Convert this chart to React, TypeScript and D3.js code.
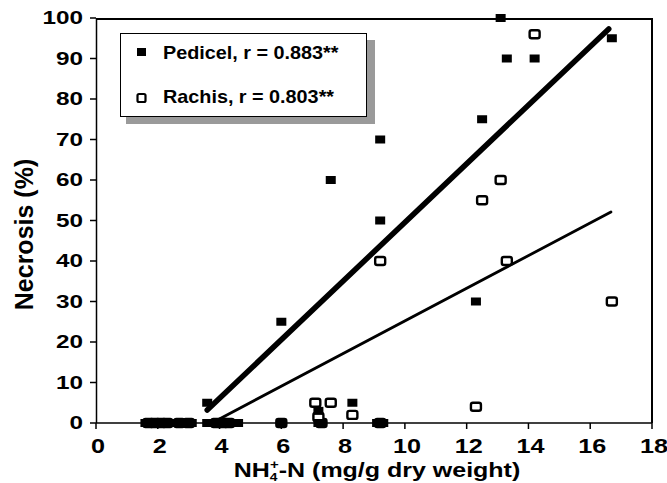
import * as d3 from "d3";
import { useRef, useEffect } from "react";

// NH4+-N (mg/g dry weight) vs necrosis (%)
const pedicelX = [1.6, 1.8, 2.0, 2.2, 2.4, 2.7, 2.9, 3.1, 3.6, 3.8, 4.0, 4.2, 4.4, 4.6, 6.0, 7.2, 7.3, 9.1, 9.3,
  3.6, 6.0, 7.6, 9.2, 9.2, 12.3, 12.5, 13.1, 13.3, 14.2, 16.7, 8.3, 7.2];
const pedicelY = [0, 0, 0, 0, 0, 0, 0, 0, 0, 0, 0, 0, 0, 0, 0, 0, 0, 0, 0,
  5, 25, 60, 50, 70, 30, 75, 100, 90, 90, 95, 5, 3];

const rachisX = [1.7, 1.9, 2.1, 2.3, 2.7, 3.0, 3.9, 4.1, 4.3, 6.0, 7.3, 9.2,
  7.1, 7.6, 7.2, 8.3, 9.2, 12.3, 12.5, 13.1, 13.3, 14.2, 16.7];
const rachisY = [0, 0, 0, 0, 0, 0, 0, 0, 0, 0, 0, 0,
  5, 5, 1.5, 2, 40, 4, 55, 60, 40, 96, 30];

// fitted lines, end points
const pedicelFitX = [3.6, 16.6];
const pedicelFitY = [3.2, 97.3];
const rachisFitX = [3.75, 16.67];
const rachisFitY = [0, 52.1];

const xTicks = [0, 2, 4, 6, 8, 10, 12, 14, 16, 18];
const yTicks = [0, 10, 20, 30, 40, 50, 60, 70, 80, 90, 100];

const legendLabels = ["Pedicel, r = 0.883**", "Rachis, r = 0.803**"];

export default function App() {
  const width = 667;
  const height = 483;
  const marginLeft = 96;
  const marginRight = 15;
  const marginTop = 18;
  const marginBottom = 60;
  const font = "'Liberation Sans', Arial, sans-serif";

  const ref = useRef(null);

  useEffect((): void => {
    if (!ref.current) return;
    const svg = d3.select(ref.current);
    svg.selectAll("*").remove();

    const x = d3.scaleLinear().domain([0, 18]).range([marginLeft, width - marginRight]);
    const y = d3.scaleLinear().domain([0, 100]).range([height - marginBottom, marginTop]);
    const x0 = x(0);
    const x1 = x(18);
    const y0 = y(0);
    const y1 = y(100);

    // frame: top and right
    svg.append("path")
      .attr("d", `M${x0},${y1 + 1}H${x1}V${y0}`)
      .attr("fill", "none")
      .attr("stroke", "#000")
      .attr("stroke-width", 2);

    // left axis
    svg.append("path")
      .attr("d", `M${x0 + 0.5},${y1}V${y0}`)
      .attr("stroke", "#000")
      .attr("stroke-width", 1.5);
    svg.append("g")
      .selectAll("line")
      .data(yTicks)
      .enter()
      .append("line")
      .attr("x1", x0 - 6)
      .attr("x2", x0)
      .attr("y1", (d) => y(d))
      .attr("y2", (d) => y(d))
      .attr("stroke", "#000")
      .attr("stroke-width", 1.5);
    svg.append("g")
      .selectAll("text")
      .data(yTicks)
      .enter()
      .append("text")
      .attr("transform", (d) => `translate(${x0 - 13},${y(d)}) scale(1.35,1)`)
      .attr("dy", "0.36em")
      .attr("text-anchor", "end")
      .attr("font-family", font)
      .attr("font-weight", "bold")
      .attr("font-size", 18)
      .text((d) => d);

    // bottom axis
    svg.append("path")
      .attr("d", `M${x0},${y0}H${x1}`)
      .attr("stroke", "#000")
      .attr("stroke-width", 1.5);
    svg.append("g")
      .selectAll("line")
      .data(xTicks)
      .enter()
      .append("line")
      .attr("x1", (d) => x(d))
      .attr("x2", (d) => x(d))
      .attr("y1", y0)
      .attr("y2", y0 + 6)
      .attr("stroke", "#000")
      .attr("stroke-width", 1.5);
    svg.append("g")
      .selectAll("text")
      .data(xTicks)
      .enter()
      .append("text")
      .attr("transform", (d) => `translate(${x(d) + 2},${y0 + 30}) scale(1.2,1)`)
      .attr("text-anchor", "middle")
      .attr("font-family", font)
      .attr("font-weight", "bold")
      .attr("font-size", 21)
      .text((d) => d);

    // axis titles
    const xt = svg.append("text")
      .attr("transform", `translate(${(x0 + x1) / 2 + 3},${height - 6}) scale(1.25,1)`)
      .attr("text-anchor", "middle")
      .attr("font-family", font)
      .attr("font-weight", "bold")
      .attr("font-size", 20);
    xt.append("tspan").text("NH");
    xt.append("tspan").attr("font-size", 11).attr("dy", 4).text("4");
    xt.append("tspan").attr("font-size", 12).attr("dx", -6).attr("dy", -12).text("+");
    xt.append("tspan").attr("dy", 8).text("-N (mg/g dry weight)");

    svg.append("text")
      .attr("transform", `translate(33,${(y0 + y1) / 2 + 14}) rotate(-90)`)
      .attr("text-anchor", "middle")
      .attr("font-family", font)
      .attr("font-weight", "bold")
      .attr("font-size", 25)
      .text("Necrosis (%)");

    // rachis points (open squares)
    svg.append("g")
      .selectAll("rect")
      .data(rachisX)
      .enter()
      .append("rect")
      .attr("x", (d) => x(d) - 5)
      .attr("y", (_, i) => y(rachisY[i]) - 4)
      .attr("width", 10)
      .attr("height", 8)
      .attr("rx", 2)
      .attr("fill", "#fff")
      .attr("stroke", "#000")
      .attr("stroke-width", 2.4);

    // pedicel points (filled squares)
    svg.append("g")
      .selectAll("rect")
      .data(pedicelX)
      .enter()
      .append("rect")
      .attr("x", (d) => x(d) - 5)
      .attr("y", (_, i) => y(pedicelY[i]) - 4)
      .attr("width", 10)
      .attr("height", 8)
      .attr("fill", "#000");

    // regression lines
    const line = d3.line<number>()
      .x((d) => x(d))
      .y(() => y(0));
    svg.append("path")
      .datum(pedicelFitX)
      .attr("d", line.y((_, i) => y(pedicelFitY[i])))
      .attr("stroke", "#000")
      .attr("stroke-width", 5.5)
      .attr("stroke-linecap", "round");
    svg.append("path")
      .datum(rachisFitX)
      .attr("d", line.y((_, i) => y(rachisFitY[i])))
      .attr("stroke", "#000")
      .attr("stroke-width", 2.8)
      .attr("stroke-linecap", "round");

    // legend
    const lg = svg.append("g");
    lg.append("rect")
      .attr("x", 126)
      .attr("y", 40)
      .attr("width", 249)
      .attr("height", 84)
      .attr("fill", "#9a9a9a");
    lg.append("rect")
      .attr("x", 120.5)
      .attr("y", 33.5)
      .attr("width", 246)
      .attr("height", 83)
      .attr("fill", "#fff")
      .attr("stroke", "#000")
      .attr("stroke-width", 1);
    lg.append("rect")
      .attr("x", 137)
      .attr("y", 48)
      .attr("width", 9)
      .attr("height", 8)
      .attr("fill", "#000");
    lg.append("rect")
      .attr("x", 137.5)
      .attr("y", 94)
      .attr("width", 8)
      .attr("height", 8)
      .attr("rx", 1.5)
      .attr("fill", "#fff")
      .attr("stroke", "#000")
      .attr("stroke-width", 2.2);
    lg.selectAll("text.lbl")
      .data(legendLabels)
      .enter()
      .append("text")
      .attr("class", "lbl")
      .attr("transform", (_, i) => `translate(163,${59 + i * 44}) scale(1.1,1)`)
      .attr("font-family", font)
      .attr("font-weight", "bold")
      .attr("font-size", 18)
      .text((d) => d);
  }, []);

  return (
    <svg
      ref={ref}
      width={width}
      height={height}
      style={{ position: "absolute", left: 0, top: 0, background: "#fff" }}
    />
  );
}
